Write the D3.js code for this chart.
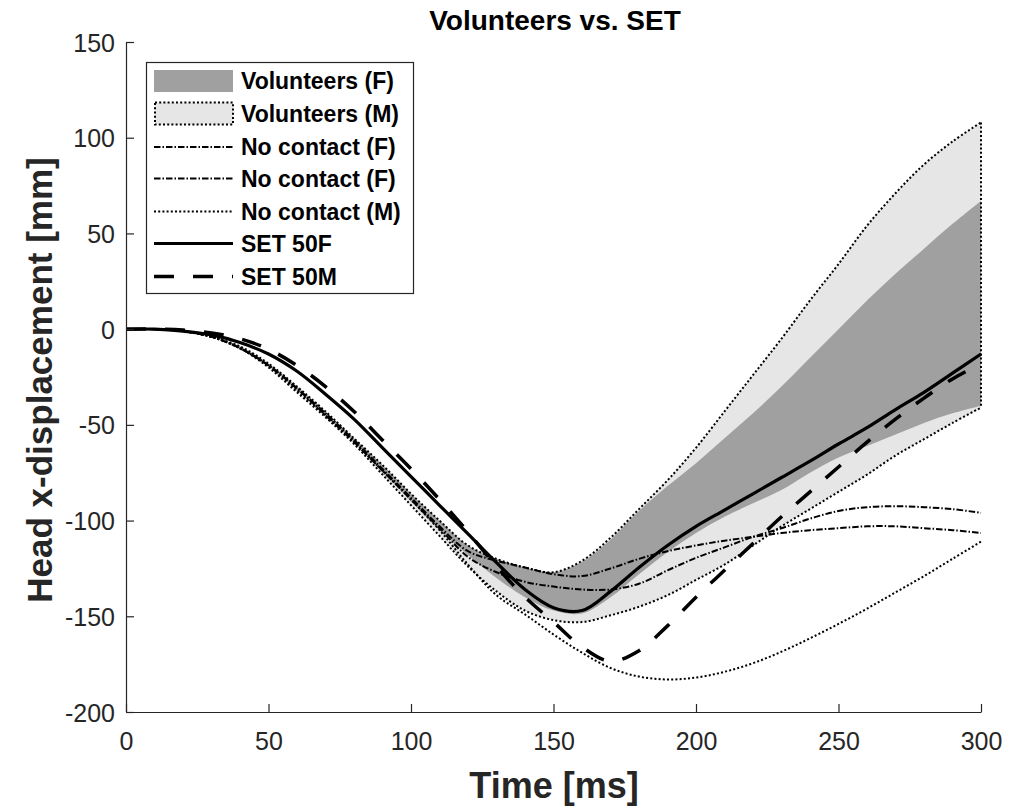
<!DOCTYPE html>
<html><head><meta charset="utf-8">
<script src="https://cdn.jsdelivr.net/npm/d3@7"></script>
<style>body{margin:0;background:#fff}svg{display:block}text{font-family:"Liberation Sans",Arial,Helvetica,sans-serif}</style>
</head><body><svg id="c" width="1016" height="808"></svg>
<script>
const time = [0,10,20,30,40,50,60,70,80,90,100,110,120,130,140,150,160,170,180,190,200,210,220,230,240,250,260,270,280,290,300];
const set50F = [0,0,-1,-3,-7,-13,-22,-34,-47,-62,-77,-92,-107,-122,-136,-145.5,-147,-137,-124.5,-113,-103,-94.5,-86,-77.5,-69,-60,-51.5,-42,-33,-23,-13];
const set50M = [0,0,-0.5,-2,-5,-10.5,-19,-30,-43,-58,-73,-89,-106,-124,-140,-153,-166,-173.5,-168,-155,-140,-126,-112,-98,-85,-72,-59,-47,-36,-26,-18];
const noContactF1 = [0,0,-1,-4,-10,-19,-31,-44,-58,-73,-88,-103,-116,-121,-124.5,-128,-129,-125,-120,-116,-113,-110.5,-108.5,-106.5,-105,-104,-103,-103,-104,-105,-106.5];
const noContactF2 = [0,0,-1,-4,-10,-19,-31,-45,-59,-74,-89,-104,-119,-127,-132,-134.5,-136,-136,-133,-126,-119.5,-114,-108.5,-104,-99,-95,-93,-92.5,-93,-94,-96];
const noContactM = [0,0,-1,-4,-10,-19,-32,-45,-59,-74,-89,-105,-123,-139,-149,-159.5,-169,-177,-181.5,-183,-182,-179,-174.5,-168.5,-161.5,-154,-146,-137.5,-129,-120,-111];
const volMUpper = [0,0,-1,-4,-9,-18,-30,-43,-57,-71,-86,-100,-113,-120,-124.5,-127,-121,-109,-94,-79,-62,-43,-24,-5,15,34,54,71,86,98,108];
const volMLower = [0,0,-1,-4,-10,-20,-33,-46,-60,-76,-92,-108,-124,-137,-147,-152,-153,-149.5,-145,-139,-131,-123,-113,-103,-94,-85,-76,-66,-57.5,-49,-41];
const volFUpper = [0,0,-1,-4,-9,-18,-30,-43,-57,-71,-86,-100,-113,-120,-124.5,-127,-121.5,-110,-95,-82,-70,-57,-44,-30,-15,0,15,29,42,55,67];
const volFLower = [0,0,-1,-4,-10,-19,-32,-45,-59,-74,-90,-105,-118,-130,-140,-147,-148.5,-140,-128,-116.5,-106.5,-98,-91,-84,-75,-67,-61,-55,-49,-44,-40];
const xTicks = [0,50,100,150,200,250,300];
const yTicks = [150,100,50,0,-50,-100,-150,-200];
const legendLabels = ["Volunteers (F)","Volunteers (M)","No contact (F)","No contact (F)","No contact (M)","SET 50F","SET 50M"];

const svg = d3.select("#c");
const x = d3.scaleLinear().domain([0,300]).range([126,981]);
const y = d3.scaleLinear().domain([-200,150]).range([712,42]);
const axisCol = "#262626";
const DOT = "2,2.2", DASHDOT = "6.5,2,1.5,2", DASH = "20,19";
const curve = d3.curveCatmullRom.alpha(0.5);

const area = (up, lo) => d3.area().x((d,i)=>x(time[i])).y0((d,i)=>y(lo[i])).y1((d,i)=>y(up[i])).curve(curve)(time);
const line = (arr) => d3.line().x((d,i)=>x(time[i])).y((d,i)=>y(arr[i])).curve(curve)(time);

// bands
svg.append("path").attr("d", area(volMUpper, volMLower)).attr("fill","#e6e6e6");
svg.append("path").attr("d", area(volFUpper, volFLower)).attr("fill","#a0a0a0");
// M band outline
[volMUpper, volMLower].forEach(arr=>{
  svg.append("path").attr("d", line(arr)).attr("fill","none").attr("stroke","#000").attr("stroke-width",2).attr("stroke-dasharray",DOT);
});
svg.append("line").attr("x1",x(300)).attr("x2",x(300)).attr("y1",y(volMUpper[30])).attr("y2",y(volMLower[30]))
  .attr("stroke","#000").attr("stroke-width",2).attr("stroke-dasharray",DOT);

// lines
svg.append("path").attr("d", line(noContactF1)).attr("fill","none").attr("stroke","#000").attr("stroke-width",2).attr("stroke-dasharray",DASHDOT);
svg.append("path").attr("d", line(noContactF2)).attr("fill","none").attr("stroke","#000").attr("stroke-width",2).attr("stroke-dasharray",DASHDOT);
svg.append("path").attr("d", line(noContactM)).attr("fill","none").attr("stroke","#000").attr("stroke-width",2).attr("stroke-dasharray",DOT);
svg.append("path").attr("d", line(set50F)).attr("fill","none").attr("stroke","#000").attr("stroke-width",3.2);
svg.append("path").attr("d", line(set50M)).attr("fill","none").attr("stroke","#000").attr("stroke-width",3.5).attr("stroke-dasharray",DASH);

// axes
const fmt = d => String(d);
const gx = svg.append("g").attr("transform","translate(0,712)")
  .call(d3.axisBottom(x).tickValues(xTicks).tickSize(-8).tickPadding(14).tickFormat(fmt));
const gy = svg.append("g").attr("transform","translate(126,0)")
  .call(d3.axisLeft(y).tickValues(yTicks).tickSize(-8).tickPadding(11).tickFormat(fmt));
[gx,gy].forEach(g=>{
  g.select(".domain").attr("stroke",axisCol).attr("stroke-width",1.2);
  g.selectAll(".tick line").attr("stroke",axisCol).attr("stroke-width",1.2);
  g.selectAll(".tick text").attr("fill",axisCol).style("font-size","25px").style("font-family",'"Liberation Sans",Arial,sans-serif');
});
gx.select(".domain").attr("d","M126.5,0.5H981.5");
gy.select(".domain").attr("d","M0.5,42H0.5V712");
gy.selectAll(".tick text").attr("dy","0.36em");
gx.selectAll(".tick text").attr("dy","0.71em").attr("y",20);

// titles
svg.append("text").attr("x",555).attr("y",30).attr("text-anchor","middle").style("font-size","28px").style("font-weight","bold").attr("fill","#000").text("Volunteers vs. SET");
svg.append("text").attr("x",554).attr("y",798).attr("text-anchor","middle").style("font-size","36px").style("font-weight","bold").attr("fill",axisCol).text("Time [ms]");
svg.append("text").attr("transform","translate(52,380) rotate(-90)").attr("text-anchor","middle").style("font-size","35px").style("font-weight","bold").attr("fill",axisCol).text("Head x-displacement [mm]");

// legend
const lg = svg.append("g");
lg.append("rect").attr("x",146.5).attr("y",62.5).attr("width",267).attr("height",231).attr("fill","#fff").attr("stroke",axisCol).attr("stroke-width",1.2);
const rows = [81,113.5,147,178.5,211.5,243.5,276.5];
lg.append("rect").attr("x",154).attr("y",rows[0]-11).attr("width",79).attr("height",22).attr("fill","#a0a0a0");
lg.append("rect").attr("x",155).attr("y",rows[1]-11).attr("width",78).attr("height",22).attr("fill","#e6e6e6").attr("stroke","#000").attr("stroke-width",2).attr("stroke-dasharray",DOT);
const lstyles = [null,null,{w:2,d:DASHDOT},{w:2,d:DASHDOT},{w:2,d:DOT},{w:3.2,d:null},{w:3.5,d:DASH}];
lstyles.forEach((s,i)=>{ if(!s) return;
  const l = lg.append("line").attr("x1",154).attr("x2",233).attr("y1",rows[i]).attr("y2",rows[i]).attr("stroke","#000").attr("stroke-width",s.w);
  if(s.d) l.attr("stroke-dasharray",s.d);
});
legendLabels.forEach((t,i)=>{
  lg.append("text").attr("x",241).attr("y",rows[i]+8).style("font-size","23px").style("font-weight","bold").attr("fill","#000").text(t);
});
</script></body></html>
